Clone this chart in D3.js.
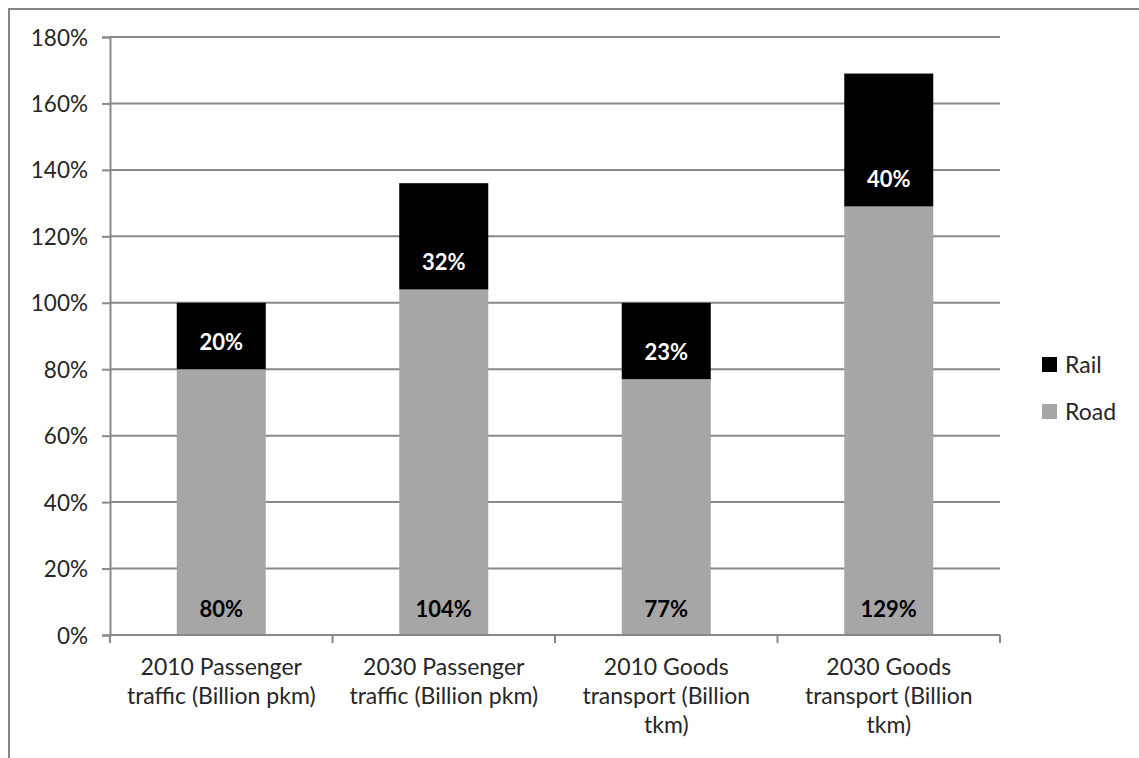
<!DOCTYPE html>
<html>
<head>
<meta charset="utf-8">
<script src="https://cdn.jsdelivr.net/npm/d3@7"></script>
<style>
    body { margin: 0; background: #fff; }
    text { font-family: Lato, "Open Sans", sans-serif; }
</style>
</head>
<body>
<div id="chart"></div>
<script>
// data
const categories = [
    ["2010 Passenger", "traffic (Billion pkm)"],
    ["2030 Passenger", "traffic (Billion pkm)"],
    ["2010 Goods", "transport (Billion", "tkm)"],
    ["2030 Goods", "transport (Billion", "tkm)"]
];
const road = [80, 104, 77, 129];
const rail = [20, 32, 23, 40];
const yTicks = [0, 20, 40, 60, 80, 100, 120, 140, 160, 180];

const W = 1139, H = 758;
const margin = {top: 37, left: 110, right: 139, bottom: 123};

const svg = d3.select("#chart").append("svg")
    .attr("width", W)
    .attr("height", H);

// outer frame (only top and left edges show)
svg.append("path")
    .attr("d", `M9,${H} L9,9 L${W},9`)
    .attr("fill", "none")
    .attr("stroke", "#878787")
    .attr("stroke-width", 2);

const x = d3.scaleBand()
    .domain(d3.range(categories.length))
    .range([margin.left, W - margin.right])
    .paddingInner(0.6)
    .paddingOuter(0.3);

const y = d3.scaleLinear()
    .domain([0, 180])
    .range([H - margin.bottom, margin.top]);

// gridlines
svg.append("g")
    .selectAll("line")
    .data(yTicks.filter(d => d > 0))
    .enter().append("line")
        .attr("x1", margin.left)
        .attr("x2", W - margin.right)
        .attr("y1", d => y(d))
        .attr("y2", d => y(d))
        .attr("stroke", "#888")
        .attr("stroke-width", 2);

// y axis
const yAxis = svg.append("g")
    .attr("transform", `translate(${margin.left},0)`)
    .call(d3.axisLeft(y).tickValues(yTicks).tickSize(8).tickPadding(14).tickFormat(d => d + "%"));
yAxis.select(".domain").attr("stroke", "#888").attr("stroke-width", 2);
yAxis.selectAll(".tick line").attr("stroke", "#888").attr("stroke-width", 2);
yAxis.selectAll("text")
    .attr("font-size", 22.5)
    .attr("fill", "#262626")
    .attr("dy", "0.36em")
    .style("font-family", "Lato, 'Open Sans', sans-serif");

// stacked bars
const bars = svg.append("g");
bars.selectAll("rect.road")
    .data(road)
    .enter().append("rect")
        .attr("class", "road")
        .attr("x", (d, i) => x(i))
        .attr("width", x.bandwidth())
        .attr("y", d => y(d))
        .attr("height", d => y(0) - y(d))
        .attr("fill", "#a6a6a6");

bars.selectAll("rect.rail")
    .data(rail)
    .enter().append("rect")
        .attr("class", "rail")
        .attr("x", (d, i) => x(i))
        .attr("width", x.bandwidth())
        .attr("y", (d, i) => y(road[i] + d))
        .attr("height", (d, i) => y(road[i]) - y(road[i] + d))
        .attr("fill", "#000");

// x axis (category boundaries as ticks)
const step = x.step();
const xAxis = svg.append("g");
xAxis.append("line")
    .attr("x1", margin.left)
    .attr("x2", W - margin.right)
    .attr("y1", y(0))
    .attr("y2", y(0))
    .attr("stroke", "#888")
    .attr("stroke-width", 2);
xAxis.selectAll("line.tick")
    .data(d3.range(categories.length + 1))
    .enter().append("line")
        .attr("class", "tick")
        .attr("x1", i => margin.left + i * step)
        .attr("x2", i => margin.left + i * step)
        .attr("y1", y(0))
        .attr("y2", y(0) + 8)
        .attr("stroke", "#888")
        .attr("stroke-width", 2);

const catLabel = xAxis.selectAll("text")
    .data(categories)
    .enter().append("text")
        .attr("text-anchor", "middle")
        .attr("font-size", 23)
        .attr("fill", "#262626")
        .attr("x", (d, i) => x(i) + x.bandwidth() / 2)
        .attr("y", y(0) + 40);
catLabel.selectAll("tspan")
    .data(d => d)
    .enter().append("tspan")
        .attr("x", function() { return this.parentNode.getAttribute("x"); })
        .attr("dy", (d, j) => j === 0 ? 0 : 29)
        .text(d => d);

// value labels (inside base of each segment)
bars.selectAll("text.roadLbl")
    .data(road)
    .enter().append("text")
        .attr("text-anchor", "middle")
        .attr("font-size", 22)
        .attr("font-weight", "bold")
        .attr("fill", "#000")
        .attr("x", (d, i) => x(i) + x.bandwidth() / 2)
        .attr("y", y(0) - 18)
        .text(d => d + "%");

bars.selectAll("text.railLbl")
    .data(rail)
    .enter().append("text")
        .attr("text-anchor", "middle")
        .attr("font-size", 22)
        .attr("font-weight", "bold")
        .attr("fill", "#fff")
        .attr("x", (d, i) => x(i) + x.bandwidth() / 2)
        .attr("y", (d, i) => y(road[i]) - 19)
        .text(d => d + "%");

// legend
const legend = svg.append("g")
    .selectAll("g")
    .data([["Rail", "#000"], ["Road", "#a6a6a6"]])
    .enter().append("g")
        .attr("transform", (d, i) => `translate(1042,${357 + i * 47})`);
legend.append("rect")
    .attr("width", 15)
    .attr("height", 15)
    .attr("fill", d => d[1]);
legend.append("text")
    .attr("x", 23)
    .attr("y", 16)
    .attr("font-size", 23)
    .attr("fill", "#262626")
    .text(d => d[0]);
</script>
</body>
</html>
